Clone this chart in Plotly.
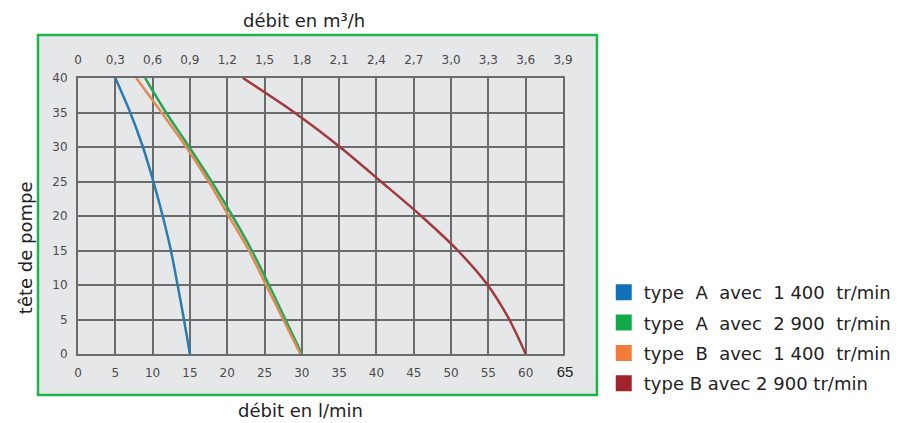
import plotly.graph_objects as go

# ---- data ----
head = [40, 35, 30, 25, 20, 15, 10, 5, 0]           # tête de pompe (m)
flow_A_1400 = [5.0, 7.0, 8.7, 10.1, 11.35, 12.45, 13.35, 14.2, 15.0]
flow_A_2900 = [9.0, 11.8, 14.9, 17.9, 20.7, 23.3, 25.6, 27.8, 30.0]
flow_B_1400 = [7.8, 11.2, 14.5, 17.5, 20.2, 22.9, 25.2, 27.5, 29.8]
flow_B_2900 = [22.1, 29.0, 35.1, 40.6, 46.0, 50.9, 54.9, 57.8, 60.0]

series_names = [
    "type\u00a0\u00a0A\u00a0\u00a0avec\u00a0\u00a01 400\u00a0\u00a0tr/min",
    "type\u00a0\u00a0A\u00a0\u00a0avec\u00a0\u00a02 900\u00a0\u00a0tr/min",
    "type\u00a0\u00a0B\u00a0\u00a0avec\u00a0\u00a01 400\u00a0\u00a0tr/min",
    "type B avec 2 900 tr/min",
]
series_flows = [flow_A_1400, flow_A_2900, flow_B_1400, flow_B_2900]
line_colors = ["#2a7bb0", "#2aa553", "#e08a55", "#a03a3c"]
legend_colors = ["#1170b8", "#12aa4b", "#f47c38", "#a1232b"]

bottom_ticks = [0, 5, 10, 15, 20, 25, 30, 35, 40, 45, 50, 55, 60, 65]
bottom_labels = ["0", "5", "10", "15", "20", "25", "30", "35", "40", "45",
                 "50", "55", "60",
                 "<span style='font-family:Liberation Sans;font-size:15px;fill:#222'>\u00a065</span>"]
top_labels = ["0", "0,3", "0,6", "0,9", "1,2", "1,5", "1,8", "2,1", "2,4",
              "2,7", "3,0", "3,3", "3,6", "3,9"]
y_ticks = [0, 5, 10, 15, 20, 25, 30, 35, 40]

fig = go.Figure()
for name, fl, lc, gc in zip(series_names, series_flows, line_colors, legend_colors):
    fig.add_trace(go.Scatter(x=fl, y=head, mode="lines",
                             line=dict(color=lc, width=2.5, shape="spline", smoothing=0.8),
                             showlegend=False, hoverinfo="skip"))
    fig.add_trace(go.Scatter(x=[None], y=[None], mode="markers", name=name, legendgroup=name,
                             marker=dict(symbol="square", size=20, color=gc)))

grid_c = "#6b6b6b"
FONT = "DejaVu Sans, sans-serif"
tick_font = dict(family=FONT, size=12, color="#4a4a4a")

fig.update_layout(
    width=895, height=415,
    margin=dict(l=70, r=340, t=70, b=69, autoexpand=False),
    paper_bgcolor="white", plot_bgcolor="#e6e7e9",
    font=dict(family=FONT, size=18, color="#222"),
    xaxis=dict(range=[0, 65], tickvals=bottom_ticks, ticktext=bottom_labels, showgrid=True,
               gridcolor=grid_c, gridwidth=2, zeroline=False, showline=True, mirror=True,
               linecolor=grid_c, linewidth=2, tickfont=tick_font, ticks="", ticklabelstandoff=7,
               fixedrange=True),
    xaxis2=dict(range=[0, 65], overlaying="x", side="top", tickvals=bottom_ticks, ticktext=top_labels,
                showgrid=False, zeroline=False, tickfont=tick_font, ticks="", ticklabelstandoff=11,
                matches="x"),
    yaxis=dict(range=[0, 40], tickvals=y_ticks, showgrid=True, gridcolor=grid_c, gridwidth=2,
               zeroline=False, showline=True, mirror=True, linecolor=grid_c, linewidth=2,
               tickfont=tick_font, ticks="", ticklabelstandoff=6),
    legend=dict(x=1.084, y=0.29, xanchor="left", yanchor="top", font=dict(size=18, color="#222"),
                tracegroupgap=4, itemsizing="trace", bgcolor="rgba(0,0,0,0)"),
    shapes=[dict(type="rect", xref="paper", yref="paper", x0=-0.0825, x1=1.070, y0=-0.149, y1=1.156,
                 line=dict(color="#1db44b", width=2.5), fillcolor="#e6e7e9", layer="below")],
    annotations=[
        dict(text="débit en m³/h", xref="paper", yref="paper", x=0.466, y=1.21, showarrow=False,
             xanchor="center", yanchor="middle", font=dict(size=18)),
        dict(text="débit en l/min", xref="paper", yref="paper", x=0.458, y=-0.2065, showarrow=False,
             xanchor="center", yanchor="middle", font=dict(size=18)),
        dict(text="tête de pompe", xref="paper", yref="paper", x=-0.109, y=0.384, showarrow=False,
             textangle=-90, xanchor="center", yanchor="middle", font=dict(size=18)),
    ],
)
# invisible helper so the top axis is drawn
fig.add_trace(go.Scatter(x=[0, 65], y=[None, None], xaxis="x2", mode="lines", showlegend=False,
                         hoverinfo="skip"))
fig.write_html("out.html")
